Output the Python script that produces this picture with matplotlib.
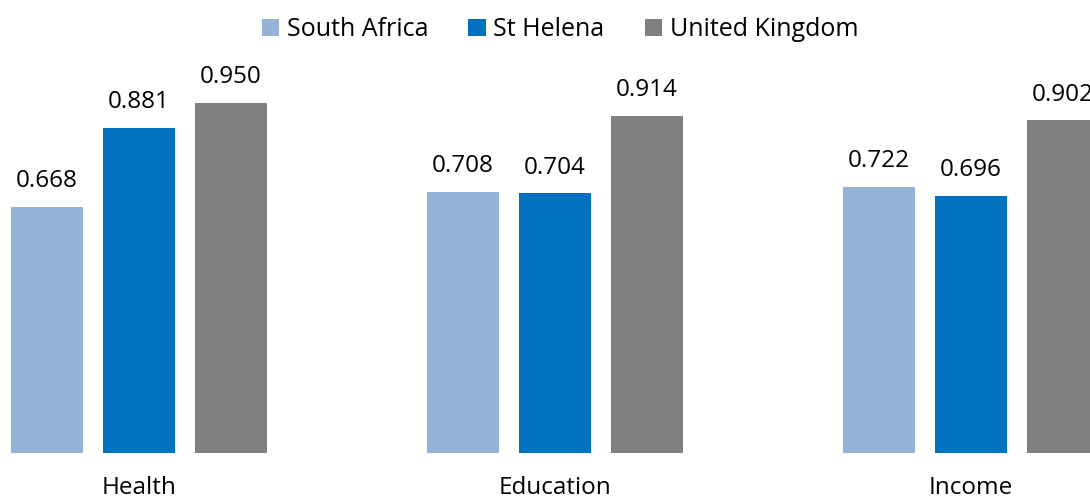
import matplotlib
matplotlib.use("Agg")
import matplotlib.pyplot as plt
from matplotlib.patches import Patch

categories = ["Health", "Education", "Income"]
series_names = ["South Africa", "St Helena", "United Kingdom"]
south_africa = [0.668, 0.708, 0.722]
st_helena = [0.881, 0.704, 0.696]
united_kingdom = [0.950, 0.914, 0.902]
colors = ["#95B3D7", "#0070C0", "#808080"]

plt.rcParams['font.family'] = ['Open Sans', 'DejaVu Sans']

fig = plt.figure(figsize=(10.9, 4.98), dpi=100)
ax = fig.add_axes([0, 0, 1, 1])

width = 72 / 416
step = 92 / 416
all_series = [south_africa, st_helena, united_kingdom]
for i, (vals, col) in enumerate(zip(all_series, colors)):
    xs = [c + (i - 1) * step for c in range(len(categories))]
    ax.bar(xs, vals, width=width, color=col, edgecolor='none')
    for x, v in zip(xs, vals):
        ax.text(x, v + 0.07, f"{v:.3f}", ha='center', va='center', fontsize=17.5, color='black')

for c, name in enumerate(categories):
    ax.text(c, -0.096, name, ha='center', va='center', fontsize=17.5, color='black')

ax.set_xlim(-139 / 416, (1090 - 139) / 416)
ax.set_ylim(-45 / 368.8, 453 / 368.8)
ax.axis('off')

handles = [Patch(facecolor=c, edgecolor='none') for c in colors]
fig.legend(handles, series_names, loc='center', bbox_to_anchor=(560 / 1090, 1 - 30 / 498),
           ncol=3, frameon=False, fontsize=18, handlelength=0.7, handleheight=0.7,
           handletextpad=0.3, columnspacing=1.6)

fig.savefig("out.png", dpi=100)
